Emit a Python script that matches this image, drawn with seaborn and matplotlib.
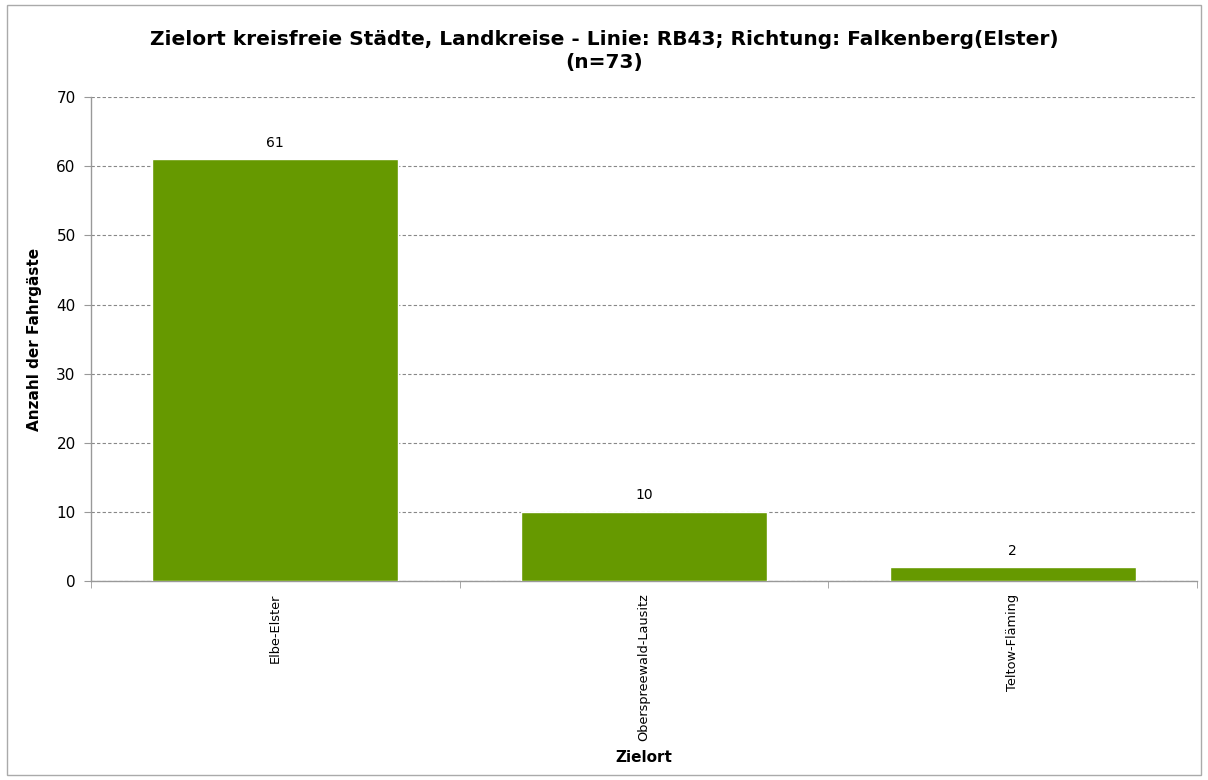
import matplotlib
matplotlib.use("Agg")
import matplotlib.pyplot as plt
import seaborn as sns
import pandas as pd
from matplotlib.patches import Rectangle

categories = ["Elbe-Elster", "Oberspreewald-Lausitz", "Teltow-Fläming"]
values = [61, 10, 2]
title = "Zielort kreisfreie Städte, Landkreise - Linie: RB43; Richtung: Falkenberg(Elster)\n(n=73)"

sns.set_style("white")
plt.rcParams['font.family'] = ['DejaVu Sans']
plt.rcParams['text.color'] = 'black'
plt.rcParams['axes.labelcolor'] = 'black'
plt.rcParams['xtick.labelcolor'] = 'black'
plt.rcParams['ytick.labelcolor'] = 'black'

df = pd.DataFrame({"Zielort": categories, "Anzahl": values})

fig = plt.figure(figsize=(12.08, 7.8), dpi=100)
ax = fig.add_axes([0.0753, 0.255, 0.9157, 0.6205])

sns.barplot(data=df, x="Zielort", y="Anzahl", color="#669900", saturation=1,
            width=0.667, ax=ax, zorder=3)

ax.set_ylim(0, 70)
ax.set_xlim(-0.5, 2.5)
ax.set_yticks(range(0, 71, 10))
ax.yaxis.grid(True, linestyle=(0, (3, 2)), color="#888888", linewidth=0.8, zorder=0)
ax.set_axisbelow(True)

for sp in ["top", "right"]:
    ax.spines[sp].set_visible(False)
for sp in ["left", "bottom"]:
    ax.spines[sp].set_color("#999999")
    ax.spines[sp].set_linewidth(1)

ax.tick_params(axis="y", length=5, color="#999999", labelsize=11, pad=6, left=True, direction="out")
ax.set_xticks(range(len(categories)))
ax.set_xticklabels(categories, rotation=90, fontsize=9.3, family="DejaVu Sans")
ax.tick_params(axis="x", length=0, pad=9)
ax.set_xticks([-0.5, 0.5, 1.5, 2.5], minor=True)
ax.tick_params(axis="x", which="minor", length=5, color="#999999", bottom=True, direction="out")

for i, v in enumerate(values):
    ax.text(i, v + 1.4, str(v), ha="center", va="bottom", fontsize=10)

ax.set_ylabel("Anzahl der Fahrgäste", fontsize=11, fontweight="bold", labelpad=10)
ax.set_xlabel("Zielort", fontsize=11, fontweight="bold")
ax.xaxis.set_label_coords(0.5, -0.348)
fig.suptitle(title, fontsize=14.5, fontweight="bold", y=0.962, linespacing=1.32)

fig.patches.append(Rectangle((0.006, 0.006), 0.988, 0.988, transform=fig.transFigure,
                             fill=False, edgecolor="#aaaaaa", linewidth=1))

fig.savefig("out.png", dpi=100)
